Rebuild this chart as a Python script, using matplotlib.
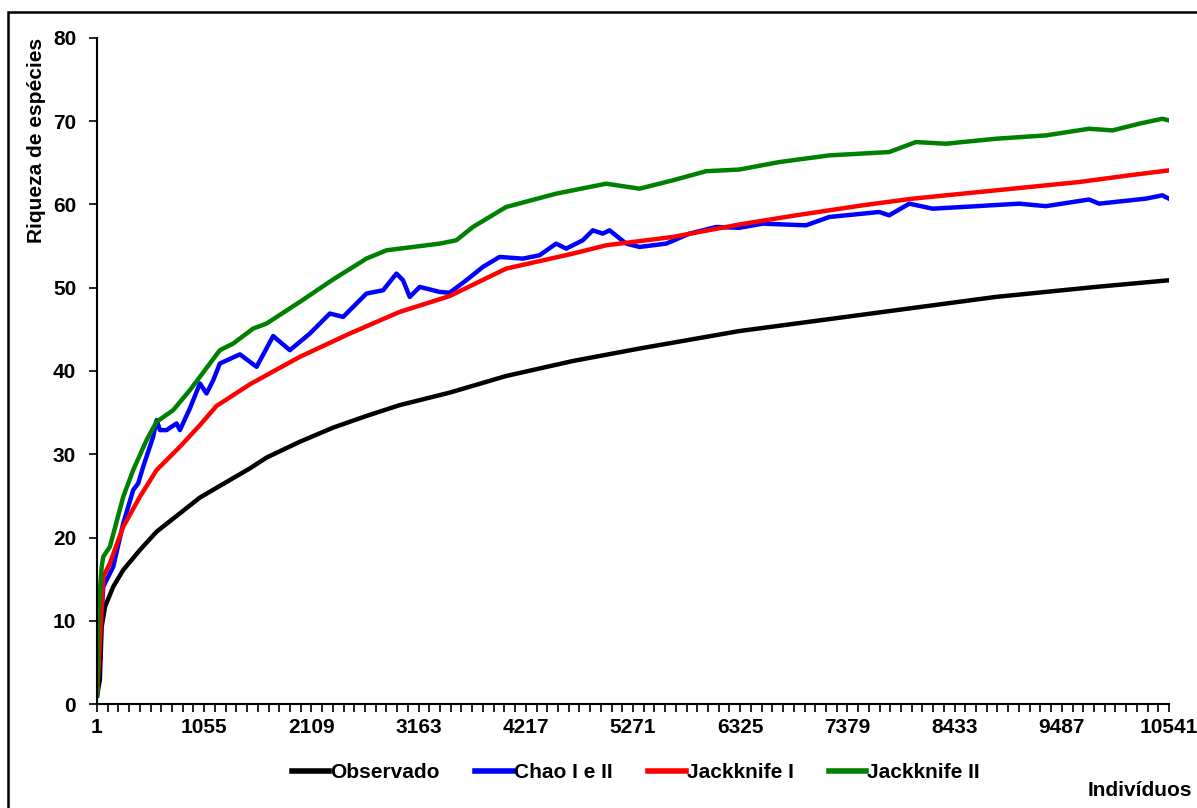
import numpy as np
import matplotlib
matplotlib.use('Agg')
import matplotlib.pyplot as plt
from matplotlib.patches import Rectangle

plt.rcParams['font.family'] = ['Liberation Sans', 'DejaVu Sans']

# Curvas de rarefação
obs_x = [1, 29, 47, 80, 161, 259, 423, 587, 816, 1013, 1307, 1504, 1668, 1995,
         2323, 2650, 2977, 3468, 4024, 4679, 5335, 5990, 6317, 6873, 7856,
         8839, 9821, 10541]
obs_y = [1, 2.9, 9.3, 11.7, 14.1, 16.1, 18.5, 20.7, 22.9, 24.8, 26.9, 28.3,
         29.6, 31.5, 33.2, 34.6, 35.9, 37.4, 39.4, 41.2, 42.7, 44.1, 44.8,
         45.7, 47.3, 48.9, 50.1, 50.9]

chao_x = [1, 30, 63, 161, 259, 357, 406, 455, 553, 587, 620, 685, 783, 816,
          914, 1013, 1078, 1144, 1209, 1406, 1570, 1733, 1897, 2094, 2290,
          2421, 2650, 2814, 2945, 3010, 3076, 3174, 3370, 3468, 3632, 3795,
          3959, 4188, 4352, 4515, 4614, 4777, 4876, 4974, 5040, 5204, 5335,
          5597, 5826, 6088, 6317, 6546, 6972, 7201, 7692, 7790, 7987, 8216,
          8511, 9068, 9330, 9755, 9854, 10311, 10475, 10541]
chao_y = [1, 8, 14.1, 16.5, 21.7, 25.7, 26.5, 28.5, 32.1, 34.1, 32.9, 32.9,
          33.7, 32.9, 35.5, 38.5, 37.3, 38.9, 40.9, 42.0, 40.5, 44.2, 42.5,
          44.5, 46.9, 46.5, 49.3, 49.7, 51.7, 50.9, 48.9, 50.1, 49.5, 49.4,
          50.9, 52.5, 53.7, 53.5, 53.9, 55.3, 54.7, 55.7, 56.9, 56.5, 56.9,
          55.3, 54.9, 55.3, 56.5, 57.3, 57.2, 57.7, 57.5, 58.5, 59.1, 58.7,
          60.1, 59.5, 59.7, 60.1, 59.8, 60.6, 60.1, 60.7, 61.1, 60.7]

jack1_x = [1, 30, 63, 128, 259, 423, 587, 816, 1013, 1176, 1504, 1995, 2486,
           2977, 3468, 4024, 4679, 5007, 5661, 6317, 6873, 7528, 8019, 8839,
           9657, 10148, 10541]
jack1_y = [1, 7.7, 15.3, 16.9, 21.3, 24.9, 28.1, 30.9, 33.5, 35.8, 38.4, 41.7,
           44.5, 47.1, 49.0, 52.3, 54.1, 55.1, 56.1, 57.6, 58.7, 59.9, 60.7,
           61.7, 62.7, 63.5, 64.1]

jack2_x = [1, 14, 47, 63, 128, 259, 357, 488, 587, 750, 914, 1013, 1209, 1340,
           1537, 1668, 1995, 2323, 2650, 2847, 3370, 3534, 3697, 4024, 4515,
           5007, 5335, 5661, 5990, 6317, 6710, 7201, 7790, 8052, 8347, 8839,
           9330, 9755, 9985, 10246, 10475, 10541]
jack2_y = [1, 10.9, 16.5, 17.7, 18.9, 24.9, 28.1, 31.7, 33.9, 35.3, 37.7, 39.3,
           42.5, 43.3, 45.1, 45.7, 48.3, 51.0, 53.5, 54.5, 55.3, 55.7, 57.3,
           59.7, 61.3, 62.5, 61.9, 62.9, 64.0, 64.2, 65.1, 65.9, 66.3, 67.5,
           67.3, 67.9, 68.3, 69.1, 68.9, 69.7, 70.3, 70.1]

xtick_labels = ['1', '1055', '2109', '3163', '4217', '5271', '6325', '7379',
                '8433', '9487', '10541']

fig = plt.figure(figsize=(11.97, 8.08), dpi=100)
ax = fig.add_axes([97 / 1197, 1 - 704 / 808, (1169 - 97) / 1197, (704 - 38) / 808])

ax.plot(obs_x, obs_y, color='black', lw=3.2, label='Observado')
ax.plot(chao_x, chao_y, color='#0000ff', lw=3.2, label='Chao I e II')
ax.plot(jack1_x, jack1_y, color='#ff0000', lw=3.2, label='Jackknife I')
ax.plot(jack2_x, jack2_y, color='#008000', lw=3.2, label='Jackknife II')

ax.set_xlim(1, 10541)
ax.set_ylim(0, 80)
ticks = [int(t) for t in xtick_labels]
ax.set_xticks(ticks)
ax.set_xticklabels(xtick_labels, fontsize=15, fontweight='bold')
ax.set_xticks(np.linspace(1, 10541, 101), minor=True)
ax.set_yticks(range(0, 81, 10))
ax.set_yticklabels([str(v) for v in range(0, 81, 10)], fontsize=15, fontweight='bold')
ax.tick_params(axis='both', which='both', direction='out', length=6, width=1.2)
ax.tick_params(axis='x', pad=4)
ax.tick_params(axis='y', pad=9)
for s in ['top', 'right']:
    ax.spines[s].set_visible(False)
for s in ['left', 'bottom']:
    ax.spines[s].set_linewidth(1.5)

fig.text(37 / 1197, 1 - 38 / 808, 'Riqueza de espécies', fontsize=15,
         fontweight='bold', rotation=90, ha='center', va='top')

leg = fig.legend(loc='center', bbox_to_anchor=(636 / 1197, 1 - 773 / 808), ncol=4,
                 frameon=False, handlelength=1.8, handletextpad=0.05,
                 columnspacing=1.7, prop={'weight': 'bold', 'size': 15})
for h in leg.legend_handles:
    h.set_linewidth(4)

fig.text(1140 / 1197, 1 - 790 / 808, 'Indivíduos', fontsize=15, fontweight='bold',
         ha='center', va='center')

fig.patches.append(Rectangle((8 / 1197, -0.05), 1.2, 1 - 12 / 808 + 0.05,
                             transform=fig.transFigure, fill=False,
                             edgecolor='black', lw=1.8))

fig.savefig('out.png', dpi=100)
